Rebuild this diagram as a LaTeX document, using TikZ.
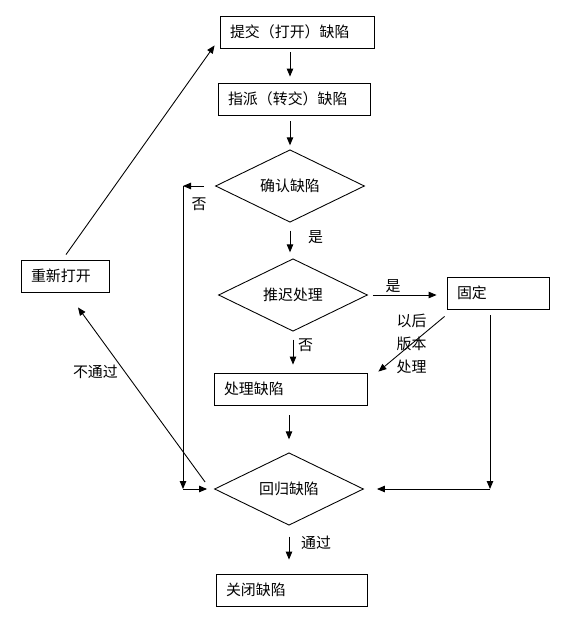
\documentclass[tikz,border=0pt]{standalone}
\usepackage{fontspec}
\setmainfont{Noto Sans CJK SC}
\usetikzlibrary{shapes.geometric,arrows.meta}

\tikzset{
	box/.style={draw, rectangle, minimum height=0.64cm, inner xsep=0.2cm, text width=#1, align=left},
	decision/.style={draw, diamond, aspect=2, inner sep=0pt, minimum width=2.98cm, minimum height=1.45cm},
	lbl/.style={inner sep=1pt},
}

\begin{document}
\begin{tikzpicture}[x=0.02cm, y=-0.02cm, font=\fontsize{8.5}{10}\selectfont,
	>={Triangle[length=0.16cm,width=0.13cm]}, line width=0.5pt]
	\useasboundingbox (0,0) rectangle (575,625);
	%
	\node[box=2.68cm] (submit) at (297,32) {提交（打开）缺陷};
	\node[box=2.64cm] (assign) at (294,99) {指派（转交）缺陷};
	\node[decision] (confirm) at (290,186) {确认缺陷};
	\node[decision] (defer) at (293,295) {推迟处理};
	\node[box=1.64cm] (fixed) at (498,293) {固定};
	\node[box=2.66cm] (handle) at (290.5,389) {处理缺陷};
	\node[decision] (regress) at (289,489) {回归缺陷};
	\node[box=2.62cm] (close) at (291.5,590) {关闭缺陷};
	\node[box=1.36cm] (reopen) at (65,276) {重新打开};
	%
	\coordinate (noL) at (183,186);
	\coordinate (noB) at (noL |- regress.west);
	\coordinate (fixB) at (490,489);
	%
	% main line
	\draw[->, shorten <=0.08cm, shorten >=0.12cm] (submit.south -| confirm.north) -- (assign.north -| confirm.north);
	\draw[->, shorten <=0.12cm, shorten >=0.08cm] (assign.south -| confirm.north) -- (confirm.north);
	\draw[->, shorten <=0.16cm, shorten >=0.12cm] (confirm.south) -- (defer.north -| confirm.south)
		node[lbl, pos=0.4, right=0.32cm] {是};
	\draw[->, shorten <=0.16cm, shorten >=0.16cm] (defer.south) -- (handle.north -| defer.south)
		node[lbl, pos=0.32, right=0.06cm] {否};
	\draw[->, shorten <=0.2cm, shorten >=0.26cm] (handle.south -| regress.north) -- (regress.north);
	\draw[->, shorten <=0.22cm, shorten >=0.28cm] (regress.south) -- (close.north -| regress.south)
		node[lbl, pos=0.35, right=0.2cm] {通过};
	%
	% side branches
	\draw[->, shorten <=0.1cm, shorten >=0.2cm] (defer.east) -- (fixed.west |- defer.east)
		node[lbl, pos=0.32, above] {是};
	\draw[->, shorten <=0.22cm] (confirm.west) -- (noL) node[lbl, midway, below=0.2cm] {否};
	\draw[->] (noL) -- (noB);
	\draw[->, shorten >=0.14cm] (noB) -- (regress.west);
	\draw[->, shorten <=0.12cm] (fixed.south -| fixB) -- (fixB);
	\draw[->, shorten >=0.26cm] (fixB) -- (regress.east);
	\draw[->] ([shift={(-2,7)}]fixed.south west) -- ([shift={(11,-1)}]handle.north east)
		node[midway, align=center, font=\fontsize{8.5}{13}\selectfont] {以后\\版本\\处理};
	\draw[->] ([shift={(-9,-7)}]regress.west) -- ([shift={(13,15)}]reopen.south)
		node[lbl, pos=0.63, left=0.1cm] {不通过};
	\draw[->] ([shift={(1,-5)}]reopen.north) -- ([shift={(-5,-3)}]submit.south west);
\end{tikzpicture}
\end{document}
